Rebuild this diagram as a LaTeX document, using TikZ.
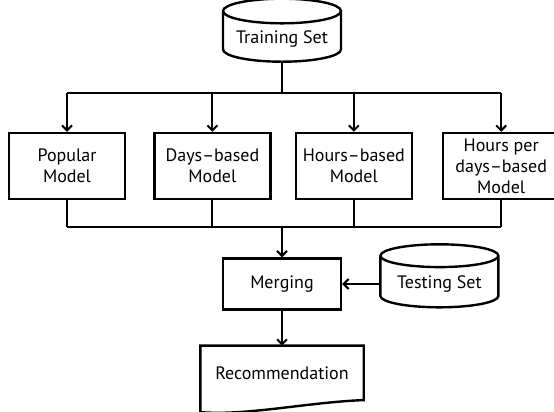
\documentclass[tikz,border=0pt]{standalone}
\usepackage{fontspec}
\setmainfont{PT Sans}
\usetikzlibrary{positioning,shapes.geometric,arrows.meta,calc}

\begin{document}
\begin{tikzpicture}[x=1pt, y=1pt,
  box_/.style={rectangle, draw, line width=2.4pt, align=center,
    font=\fontsize{18}{21}\selectfont, inner sep=2pt, minimum width=116pt, minimum height=66pt},
  db_/.style={cylinder, shape border rotate=90, draw, line width=2.4pt, aspect=0.25,
    font=\fontsize{18}{21}\selectfont, minimum width=118pt, minimum height=63pt},
  wire/.style={line width=2pt},
  arr/.style={-{Straight Barb[length=5pt,width=10pt]}, line width=2pt}
]
\useasboundingbox (0,0) rectangle (554,412);

\node[db_] (train) at (282,373) {Training Set};
\node[box_] (popular) at (67,246) {Popular\\Model};
\node[box_, right=27pt of popular] (days) {Days--based\\Model};
\node[box_, right=23pt of days] (hours) {Hours--based\\Model};
\node[box_, right=29pt of hours] (hpd) {Hours per\\days--based\\Model};
\node[box_, minimum width=118pt, minimum height=51pt] (merging) at (282,128) {Merging};
\node[db_, right=37pt of merging] (testing) {Testing Set};
\node[box_, draw=none, minimum width=161pt, minimum height=52pt, below=35pt of merging] (rec) {Recommendation};

% fan out from the training set
\coordinate (split) at ($(train.south)+(0,-30)$);
\draw[wire] (train.south) -- (split);
\draw[wire] (split -| popular.north) -- (split -| hpd.north);
\foreach \m in {popular,days,hours,hpd}
  \draw[arr] (split -| \m.north) -- (\m.north);

% collect the four models
\coordinate (join) at ($(merging.north)+(0,30)$);
\foreach \m in {popular,days,hours,hpd}
  \draw[wire] (\m.south) -- (\m.south |- join);
\draw[wire] (join -| popular.south) -- (join -| hpd.south);
\draw[arr] (join) -- (merging.north);
\draw[arr] (testing.west) -- (merging.east);
\draw[arr] (merging.south) -- (rec.north);

% document outline
\draw[line width=2.4pt] (rec.north west) -- (rec.north east) -- (rec.south east)
  .. controls ($(rec.south east)+(-55,-2)$) and ($(rec.south west)+(45,-16)$) .. ($(rec.south west)+(0,-12)$)
  -- cycle;
\end{tikzpicture}
\end{document}
